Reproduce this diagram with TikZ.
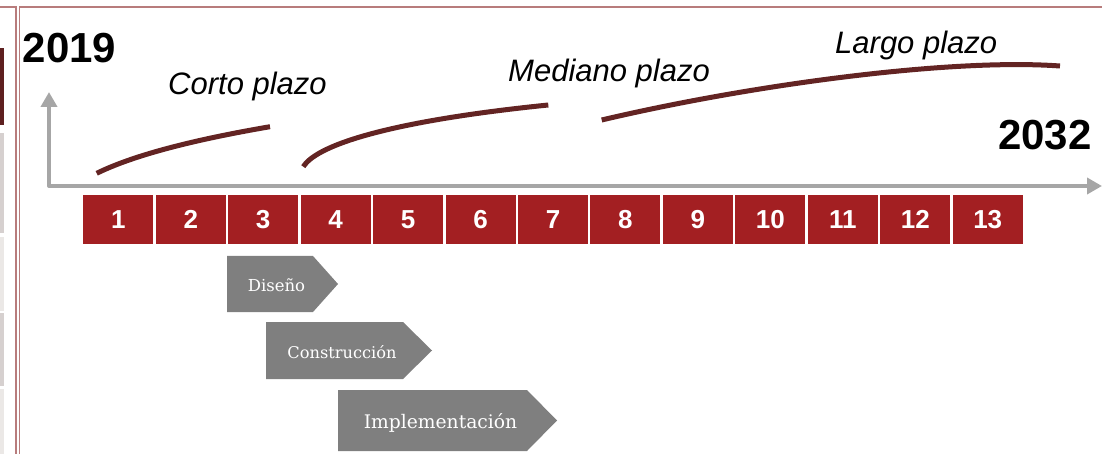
\documentclass[tikz,border=0pt]{standalone}
\usepackage{fontspec}
\setmainfont{Liberation Sans}
\newfontfamily\chevfont{DejaVu Serif}
\usetikzlibrary{arrows.meta}
\definecolor{boxred}{HTML}{A31F22}
\definecolor{curvered}{HTML}{632423}
\definecolor{axisgray}{HTML}{A6A6A6}
\definecolor{chevgray}{HTML}{7F7F7F}
\definecolor{framecol}{HTML}{B87C7C}
\definecolor{stripdark}{HTML}{5E2020}
\definecolor{stripA}{HTML}{D6D0CF}
\definecolor{stripB}{HTML}{EBE8E6}
\tikzset{
  yearbox/.style={fill=boxred, text=white, minimum width=70pt, minimum height=49pt, inner sep=0pt,
    font=\bfseries\fontsize{26}{26}\selectfont},
  termcurve/.style={draw=curvered, line width=5pt},
  termlabel/.style={anchor=base west, inner sep=0pt, font=\itshape\fontsize{31}{31}\selectfont},
  yearlabel/.style={anchor=base west, inner sep=0pt, font=\bfseries\fontsize{42}{42}\selectfont},
  chevron/.style={fill=chevgray},
  chevtext/.style={anchor=base, inner sep=0pt, text=white},
  frameline/.style={draw=framecol, line width=1.1pt},
}
\begin{document}
\begin{tikzpicture}[x=1pt,y=-1pt]
\useasboundingbox (0,0) rectangle (1102,454);
% left strips
\fill[stripdark] (0,48) rectangle (4,125);
\fill[stripA] (0,133) rectangle (4,233);
\fill[stripB] (0,237) rectangle (4,311);
\fill[stripA] (0,313) rectangle (4,386);
\fill[stripB] (0,389) rectangle (4,454);
% frames
\draw[frameline] (0,7) -- (16,7) -- (16,454);
\draw[frameline] (19.5,454) -- (19.5,7) -- (1102,7);
% axes
\coordinate (ytip) at (49,92);
\coordinate (origin) at (49,186);
\coordinate (xtip) at (1102,186);
\draw[axisgray, line width=4pt, line join=round,
  {Triangle[width=16pt,length=15pt]}-{Triangle[width=16pt,length=15pt]}]
  (ytip) -- (origin) -- (xtip);
% year boxes
\foreach \i in {1,...,13} {
  \node[yearbox] (b\i) at ({83.3+35+(\i-1)*72.45},219.5) {\i};
}
% curves
\coordinate (c1s) at (96.7,173.3);
\coordinate (c1e) at (270,126.7);
\draw[termcurve] (c1s) .. controls (140,152) and (210,137) .. (c1e);
\coordinate (c2s) at (303.3,166.7);
\coordinate (c2e) at (548.3,105);
\draw[termcurve] (c2s) .. controls (318,143) and (400,120) .. (c2e);
\coordinate (c3s) at (601.7,120);
\coordinate (c3e) at (1060,66);
\draw[termcurve] (c3s) .. controls (750,85) and (950,58) .. (c3e);
% labels
\node[yearlabel] (y2019) at (22.7,63) {2019};
\node[yearlabel] (y2032) at (998,150) {2032};
\node[termlabel] (corto) at (168,95) {Corto plazo};
\node[termlabel] (mediano) at (508,81.7) {Mediano plazo};
\node[termlabel] (largo) at (835,53.3) {Largo plazo};
% chevrons
\fill[chevron] (227,256) -- (313,256) -- (338,284) -- (313,312) -- (227,312) -- cycle;
\node[chevtext, font=\chevfont\fontsize{16.5}{16.5}\selectfont] (dis) at (276.5,291.7) {Diseño};
\fill[chevron] (266,322) -- (403,322) -- (432,350.5) -- (403,379) -- (266,379) -- cycle;
\node[chevtext, font=\chevfont\fontsize{16.2}{16.2}\selectfont] (con) at (342,358.3) {Construcción};
\fill[chevron] (338,390) -- (527,390) -- (557,420.5) -- (527,451) -- (338,451) -- cycle;
\node[chevtext, font=\chevfont\fontsize{18.7}{18.7}\selectfont] (imp) at (440.5,428.3) {Implementación};
\end{tikzpicture}
\end{document}
